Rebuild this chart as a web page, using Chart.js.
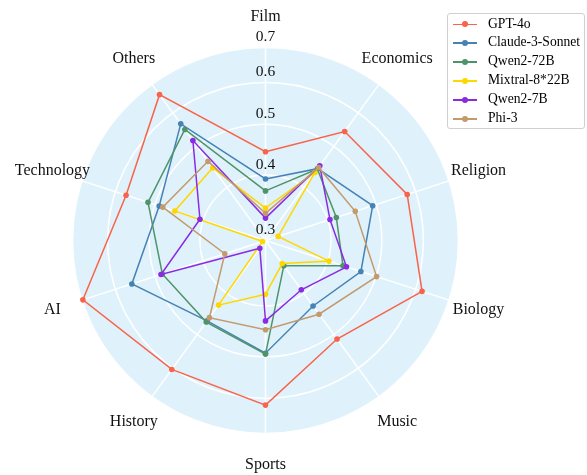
<!DOCTYPE html>
<html>
<head>
<meta charset="utf-8">
<script src="https://cdn.jsdelivr.net/npm/chart.js@4/dist/chart.umd.min.js"></script>
<style>
  html, body { margin: 0; padding: 0; background: #fff; }
  #wrap { position: relative; width: 587px; height: 475px; }
  #legend {
    position: absolute; left: 447px; top: 13px; width: 138px; height: 116px;
    border: 1px solid #d0d0d0; border-radius: 3px; background: rgba(255,255,255,0.85);
    font-family: 'Liberation Serif', serif; font-size: 13.6px; color: #000;
    box-sizing: border-box; padding-top: 0.5px;
  }
  .item { position: relative; height: 18.9px; line-height: 18.9px; }
  .mk { position: absolute; left: 5px; top: 9px; width: 24px; height: 1.6px; }
  .dot { position: absolute; left: 9px; top: -2.2px; width: 6px; height: 6px; border-radius: 50%; }
  .tx { position: absolute; left: 40px; top: 0; white-space: nowrap; }
</style>
</head>
<body>
<div id="wrap">
  <canvas id="c" width="587" height="475"></canvas>
  <div id="legend"></div>
</div>
<script>
const categories = ['Film', 'Economics', 'Religion', 'Biology', 'Music', 'Sports', 'History', 'AI', 'Technology', 'Others'];
const seriesNames = ['GPT-4o', 'Claude-3-Sonnet', 'Qwen2-72B', 'Mixtral-8*22B', 'Qwen2-7B', 'Phi-3'];
const gpt4o      = [0.443, 0.542, 0.577, 0.618, 0.512, 0.618, 0.604, 0.697, 0.571, 0.662];
const claude     = [0.393, 0.443, 0.492, 0.466, 0.428, 0.492, 0.464, 0.556, 0.490, 0.565];
const qwen72b    = [0.373, 0.442, 0.416, 0.429, 0.344, 0.494, 0.467, 0.483, 0.516, 0.548];
const mixtral    = [0.346, 0.434, 0.318, 0.402, 0.340, 0.380, 0.426, 0.304, 0.456, 0.445];
const qwen7b     = [0.331, 0.450, 0.404, 0.436, 0.392, 0.427, 0.313, 0.486, 0.406, 0.516];
const phi3       = [0.338, 0.446, 0.454, 0.501, 0.4475, 0.444, 0.456, 0.362, 0.482, 0.461];
const tickValues = [0.3, 0.4, 0.5, 0.6, 0.7];
const tickLabels = ['0.3', '0.4', '0.5', '0.6', '0.7'];
const colors = ['#F8634A', '#4682B4', '#4E9468', '#FFD700', '#8A2BE2', '#C49A6C'];

const allSeries = [gpt4o, claude, qwen72b, mixtral, qwen7b, phi3];
const FONT = "'Liberation Serif', serif";

const datasets = allSeries.map((vals, i) => ({
  label: seriesNames[i],
  data: vals.map(v => Math.log(v)),
  borderColor: colors[i],
  backgroundColor: colors[i],
  pointBackgroundColor: colors[i],
  pointBorderColor: colors[i],
  borderWidth: 1.5,
  pointRadius: 2.8,
  pointBorderWidth: 0,
  fill: false,
  order: allSeries.length - i
}));

const labelPlugin = {
  id: 'labels',
  afterDraw(chart) {
    const s = chart.scales.r;
    const ctx = chart.ctx;
    ctx.save();
    ctx.fillStyle = '#111';
    ctx.textAlign = 'center';
    ctx.textBaseline = 'middle';
    ctx.font = '16px ' + FONT;
    categories.forEach((c, i) => {
      const p = s.getPointPosition(i, s.drawingArea + 31);
      ctx.fillText(c, p.x, p.y);
    });
    ctx.font = '15.5px ' + FONT;
    tickValues.forEach((v, i) => {
      const d = s.getDistanceFromCenterForValue(Math.log(v));
      ctx.fillText(tickLabels[i], s.xCenter, s.yCenter - d - 10.5);
    });
    ctx.restore();
  }
};

new Chart(document.getElementById('c'), {
  type: 'radar',
  data: { labels: categories, datasets },
  options: {
    responsive: false,
    animation: false,
    plugins: { legend: { display: false }, tooltip: { enabled: false } },
    elements: { line: { tension: 0 } },
    scales: {
      r: {
        min: Math.log(tickValues[0]),
        max: Math.log(tickValues[tickValues.length - 1]),
        backgroundColor: '#DFF2FC',
        grid: { circular: true, color: '#ffffff', lineWidth: 1.5 },
        angleLines: { color: '#ffffff', lineWidth: 1.5 },
        pointLabels: { display: false },
        ticks: { display: false },
        afterBuildTicks: (sc) => { sc.ticks = tickValues.map(v => ({ value: Math.log(v) })); },
        afterFit: (sc) => { sc.xCenter = 265.5; sc.yCenter = 240.5; sc.drawingArea = 193; }
      }
    }
  },
  plugins: [labelPlugin]
});

const lg = document.getElementById('legend');
seriesNames.forEach((n, i) => {
  const it = document.createElement('div');
  it.className = 'item';
  it.innerHTML = '<span class="mk" style="background:' + colors[i] + '"><span class="dot" style="background:' + colors[i] + '"></span></span><span class="tx"></span>';
  it.querySelector('.tx').textContent = n;
  lg.appendChild(it);
});
</script>
</body>
</html>
